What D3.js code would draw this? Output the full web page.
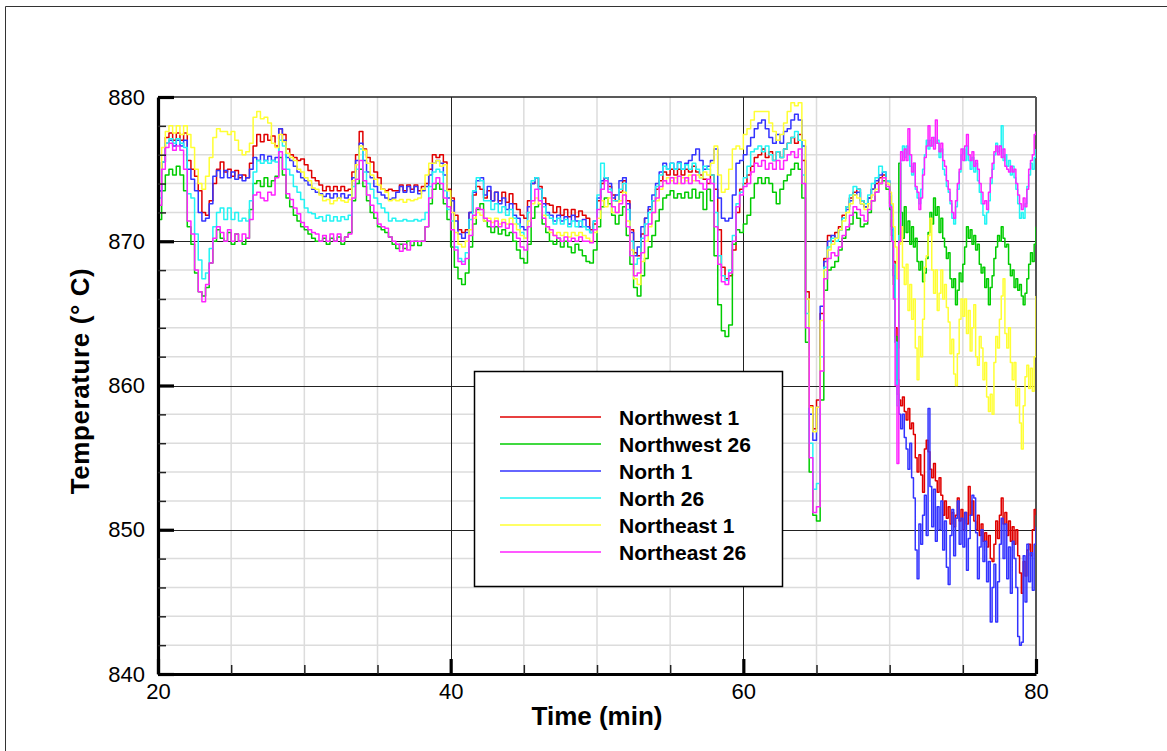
<!DOCTYPE html>
<html>
<head>
<meta charset="utf-8">
<script src="https://cdn.jsdelivr.net/npm/d3@7"></script>
<style>
  html, body { margin: 0; padding: 0; background: #fff; }
  svg { display: block; font-family: "Liberation Sans", Arial, sans-serif; }
</style>
</head>
<body>
<svg id="chart" width="1167" height="751"></svg>
<script>
// Logger time stamps (min): every 15 s up to 70 min, every 7.5 s afterwards
const minutes = [
  20,20.25,20.5,20.75,21,21.25,21.5,21.75,22,22.25,22.5,22.75,23,23.25,23.5,23.75,24,24.25,24.5,24.75,
  25,25.25,25.5,25.75,26,26.25,26.5,26.75,27,27.25,27.5,27.75,28,28.25,28.5,28.75,29,29.25,29.5,29.75,
  30,30.25,30.5,30.75,31,31.25,31.5,31.75,32,32.25,32.5,32.75,33,33.25,33.5,33.75,34,34.25,34.5,34.75,
  35,35.25,35.5,35.75,36,36.25,36.5,36.75,37,37.25,37.5,37.75,38,38.25,38.5,38.75,39,39.25,39.5,39.75,
  40,40.25,40.5,40.75,41,41.25,41.5,41.75,42,42.25,42.5,42.75,43,43.25,43.5,43.75,44,44.25,44.5,44.75,
  45,45.25,45.5,45.75,46,46.25,46.5,46.75,47,47.25,47.5,47.75,48,48.25,48.5,48.75,49,49.25,49.5,49.75,
  50,50.25,50.5,50.75,51,51.25,51.5,51.75,52,52.25,52.5,52.75,53,53.25,53.5,53.75,54,54.25,54.5,54.75,
  55,55.25,55.5,55.75,56,56.25,56.5,56.75,57,57.25,57.5,57.75,58,58.25,58.5,58.75,59,59.25,59.5,59.75,
  60,60.25,60.5,60.75,61,61.25,61.5,61.75,62,62.25,62.5,62.75,63,63.25,63.5,63.75,64,64.25,64.5,64.75,
  65,65.25,65.5,65.75,66,66.25,66.5,66.75,67,67.25,67.5,67.75,68,68.25,68.5,68.75,69,69.25,69.5,69.75,
  70,70.125,70.25,70.375,70.5,70.625,70.75,70.875,
  71,71.125,71.25,71.375,71.5,71.625,71.75,71.875,
  72,72.125,72.25,72.375,72.5,72.625,72.75,72.875,
  73,73.125,73.25,73.375,73.5,73.625,73.75,73.875,
  74,74.125,74.25,74.375,74.5,74.625,74.75,74.875,
  75,75.125,75.25,75.375,75.5,75.625,75.75,75.875,
  76,76.125,76.25,76.375,76.5,76.625,76.75,76.875,
  77,77.125,77.25,77.375,77.5,77.625,77.75,77.875,
  78,78.125,78.25,78.375,78.5,78.625,78.75,78.875,
  79,79.125,79.25,79.375,79.5,79.625,79.75,79.875,
  80
];

// Thermocouple readings (°C), one value per time stamp
const northwest1 = [
  873.5,875.5,877.2,877.5,877.0,877.5,877.0,877.5,875.6,875.0,874.5,873.5,872.0,871.8,872.8,874.0,875.0,875.5,874.8,875.0,
  874.5,874.9,874.4,874.6,874.4,875.4,876.6,877.4,876.9,877.4,877.0,877.3,876.6,877.8,877.4,876.4,876.0,875.8,875.6,875.7,
  875.3,874.9,874.4,874.2,873.9,873.5,873.8,873.5,873.8,873.5,873.8,873.5,873.6,874.8,876.0,877.6,876.4,875.8,875.5,874.8,
  874.4,873.6,873.5,873.6,873.5,873.5,873.9,873.5,873.9,873.6,873.9,873.5,873.8,874.0,875.0,876.0,875.8,876.0,875.5,873.6,
  873.0,871.8,870.8,870.6,870.8,872.0,873.2,873.8,873.6,873.0,873.5,872.8,873.4,872.8,873.4,872.7,873.3,872.6,872.2,871.8,
  871.6,872.8,874.0,874.4,873.8,873.0,872.6,872.5,872.0,872.4,871.8,872.2,871.7,872.2,871.7,872.1,871.8,871.6,870.8,871.2,
  872.8,874.0,874.4,873.8,873.2,872.8,873.4,874.2,872.8,870.8,869.2,869.0,870.5,871.6,872.2,872.8,873.6,874.2,874.8,874.6,
  875.0,874.6,875.0,874.6,875.0,874.8,875.2,874.8,874.6,874.3,874.0,874.6,873.6,870.8,868.2,867.4,867.6,869.4,872.0,873.6,
  874.0,874.6,875.2,875.8,876.0,876.4,875.8,876.2,875.6,876.2,875.8,876.4,876.8,877.2,876.8,877.4,875.6,866.5,858.6,857.0,
  859.0,865.0,868.8,870.4,870.0,870.6,871.0,871.8,872.4,873.0,873.4,873.6,872.8,872.4,873.0,873.6,874.0,874.4,874.6,874.0,
  872.6,871.0,868.6,864.0,860.4,859.0,858.6,859.2,
  858.2,857.6,858.4,857.0,857.4,856.6,855.0,854.0,
  855.2,853.8,852.6,855.6,856.2,855.4,854.2,853.6,
  854.6,853.4,852.6,853.6,852.4,851.0,852.0,850.8,
  851.6,850.4,851.2,850.2,851.0,852.2,850.6,851.4,
  850.0,851.2,850.4,853.0,851.0,852.0,850.6,850.0,
  851.0,849.6,850.4,849.2,849.8,848.8,849.6,848.0,
  847.8,849.0,850.6,849.4,851.0,852.2,850.4,851.2,
  849.6,850.6,849.2,850.2,849.0,850.0,848.2,847.0,
  845.6,847.8,846.8,848.6,849.0,848.2,850.0,851.4,
  851.0
];

const northwest26 = [
  871.5,873.5,874.6,875.0,874.6,875.2,874.6,873.5,871.0,869.8,867.8,866.5,866.2,866.8,868.5,870.0,870.8,870.2,870.0,870.6,
  869.8,870.5,870.0,869.8,870.2,872.2,874.0,874.2,873.8,874.4,873.8,874.2,874.5,875.8,874.6,873.0,872.4,871.8,871.4,871.0,
  870.8,870.5,870.2,870.0,870.0,870.2,869.8,870.2,870.0,870.3,869.8,870.3,870.6,872.8,874.0,875.0,873.8,872.8,872.0,871.6,
  871.0,870.8,870.6,870.3,869.8,869.5,869.8,869.5,870.0,869.7,870.0,869.7,870.0,871.0,872.6,873.6,874.0,873.6,872.6,871.5,
  869.6,868.2,867.4,867.0,867.8,869.6,871.2,872.2,872.6,871.4,871.0,870.6,871.0,870.5,870.8,870.4,870.6,870.0,869.4,868.8,
  868.5,869.8,871.6,872.4,872.6,871.2,870.6,870.0,869.8,870.2,869.6,870.0,869.6,869.2,869.8,869.4,869.0,868.6,868.5,869.4,
  871.0,872.4,873.0,872.6,871.8,871.2,871.8,872.4,870.4,868.4,866.8,866.2,867.6,868.8,869.6,870.4,871.4,872.2,873.0,873.2,
  873.5,873.0,873.3,873.0,873.4,873.0,873.6,873.0,873.4,872.2,873.6,872.8,869.0,865.6,863.8,863.4,864.2,869.8,870.8,870.6,
  871.2,871.8,873.0,874.0,874.4,874.0,874.4,874.0,873.4,872.6,873.6,874.2,874.6,875.0,875.4,875.0,873.0,863.0,854.0,851.0,
  850.6,859.0,866.6,868.0,868.2,868.6,869.4,870.2,870.8,871.2,872.0,871.6,871.0,871.2,872.0,872.8,873.4,874.0,874.2,873.6,
  872.2,870.4,867.0,863.4,862.6,875.4,872.0,870.2,
  872.4,870.6,871.4,869.8,871.0,869.6,870.2,868.6,
  868.0,868.6,867.2,867.8,868.8,870.6,872.0,871.2,
  873.0,871.8,872.4,870.6,871.6,870.2,869.6,868.8,
  869.2,867.4,866.8,867.4,865.6,866.6,867.8,867.2,
  868.4,869.6,871.0,870.2,870.8,869.8,870.4,869.4,
  869.8,868.4,867.8,868.2,866.8,867.4,865.6,866.8,
  867.6,868.8,869.6,870.4,870.0,871.0,870.2,869.6,
  869.8,868.4,867.6,868.0,866.8,867.4,866.6,867.0,
  866.2,865.6,866.4,867.4,868.4,869.2,868.6,869.8,
  871.0
];

const north1 = [
  873.5,875.5,876.8,877.0,876.6,877.0,876.6,877.0,875.0,874.3,873.5,872.0,871.4,871.6,872.6,874.5,874.9,874.4,874.9,874.4,
  874.8,874.3,874.6,874.2,874.4,875.0,875.8,875.6,876.0,875.6,875.9,875.6,875.8,877.8,877.0,875.8,875.6,875.2,874.8,874.4,
  874.2,873.9,873.6,873.4,873.3,873.1,873.3,873.0,873.3,873.0,873.3,873.0,873.2,874.4,875.6,876.8,875.6,874.8,874.4,873.8,
  873.4,873.2,873.0,872.9,873.0,873.4,873.8,873.4,873.8,873.4,873.8,873.3,873.5,873.8,874.6,875.4,875.6,875.4,874.6,873.0,
  872.8,871.4,870.5,870.2,870.6,872.0,873.4,874.2,874.4,873.2,873.8,872.8,873.4,872.6,873.0,872.2,872.6,871.8,871.6,871.0,
  870.8,872.4,874.0,874.4,873.6,872.6,872.0,871.8,871.4,871.8,871.4,871.7,871.2,871.8,871.4,871.0,871.5,871.0,870.6,871.4,
  873.0,874.2,874.4,874.0,873.0,873.2,874.2,874.4,872.6,870.6,869.0,869.6,871.0,871.6,872.4,873.2,874.0,874.8,875.4,875.0,
  875.4,875.0,875.5,875.0,875.4,875.6,876.0,876.4,875.6,875.0,875.2,875.6,876.4,873.0,871.6,871.4,871.6,873.2,875.4,875.6,
  876.0,876.6,877.2,877.8,878.2,878.4,877.8,877.2,876.8,877.4,876.8,877.6,877.8,878.4,878.8,878.4,876.6,866.0,858.0,856.2,
  858.5,865.5,868.6,870.0,870.4,870.2,870.8,871.6,872.2,872.8,873.2,873.4,872.6,872.4,873.0,873.6,874.2,874.6,874.8,874.2,
  872.4,870.8,867.6,863.0,859.4,858.0,857.0,858.0,
  856.4,855.6,854.2,856.0,853.6,852.2,848.6,846.6,
  850.4,849.0,851.0,852.4,849.6,858.4,853.0,850.2,
  852.8,849.2,851.6,850.0,852.0,848.6,850.6,847.4,
  846.2,849.6,851.4,848.2,850.8,852.0,849.0,850.8,
  848.8,851.2,847.2,849.4,851.0,852.4,852.2,849.8,
  846.6,848.8,850.0,847.8,849.2,846.4,847.8,843.6,
  846.0,847.6,843.6,846.4,849.0,850.8,848.0,850.4,
  846.6,848.8,845.6,849.2,848.0,846.0,842.6,842.0,
  842.2,848.2,845.0,849.0,846.4,848.4,845.8,849.0,
  850.2
];

const north26 = [
  873.0,875.5,876.8,877.1,876.8,877.1,876.8,876.5,873.3,873.0,870.5,868.7,867.4,867.8,869.5,871.0,872.0,872.3,871.5,872.3,
  871.5,872.0,871.4,871.6,871.4,872.8,874.8,875.6,875.4,875.6,875.4,875.6,875.5,877.0,876.6,875.0,874.6,873.8,873.4,872.9,
  872.3,872.0,871.9,871.6,871.7,871.4,871.8,871.4,871.7,871.4,871.7,871.5,871.8,873.8,875.0,876.4,874.8,874.0,873.6,873.0,
  872.6,872.3,872.0,871.4,871.6,871.4,871.4,871.5,871.4,871.4,871.5,871.4,871.5,872.0,873.8,874.8,875.0,874.8,873.5,872.2,
  871.4,869.6,868.8,868.6,869.2,871.5,873.5,874.4,874.2,872.8,872.8,872.2,872.6,872.0,872.4,871.8,872.2,871.6,871.2,870.6,
  870.2,872.0,874.2,874.4,873.6,872.4,871.8,871.6,871.2,871.6,871.2,871.5,871.0,871.4,871.0,871.4,871.0,870.8,870.6,871.4,
  873.2,875.4,874.4,873.6,872.8,872.8,873.6,874.0,872.2,870.0,868.4,868.8,870.2,871.2,872.0,872.8,873.8,874.6,875.2,875.0,
  875.4,875.0,875.4,875.0,875.3,875.0,875.4,875.0,874.4,875.2,875.0,874.6,872.0,869.0,867.6,867.3,868.0,870.4,872.6,873.4,
  874.4,875.2,876.2,876.4,876.6,876.2,876.6,876.0,875.6,876.2,875.8,876.4,876.8,877.2,877.6,877.0,874.6,865.0,856.0,852.8,
  853.2,862.0,868.2,869.6,870.2,870.0,870.8,871.6,872.4,873.2,873.8,873.6,872.8,872.6,873.2,874.0,874.4,875.2,874.8,874.2,
  873.2,871.6,868.4,863.0,858.6,870.4,875.6,876.6,
  875.8,876.6,876.0,875.2,874.6,875.4,873.6,873.0,
  872.6,873.6,875.0,876.0,877.0,876.4,877.0,876.6,
  877.2,876.8,877.0,875.8,876.4,875.0,874.6,873.8,
  873.4,872.6,871.6,871.2,872.4,873.6,874.8,876.0,
  876.4,875.6,876.6,875.6,875.0,875.8,874.8,875.4,
  874.2,873.4,872.6,871.8,871.2,872.0,872.8,874.0,
  875.0,876.0,876.8,876.2,876.6,878.0,875.6,876.0,
  875.2,875.6,874.6,875.2,874.4,873.6,872.6,871.6,
  872.0,871.6,872.6,873.8,874.6,875.4,875.0,875.8,
  876.4
];

const northeast1 = [
  874.0,876.5,877.6,878.0,877.5,878.0,877.4,878.0,877.4,876.5,875.0,874.0,873.6,874.5,875.8,877.2,877.8,877.6,877.6,877.4,
  877.6,877.0,876.3,876.0,876.2,876.8,878.6,879.0,878.5,878.6,878.2,876.8,876.5,877.4,876.9,876.1,875.8,875.6,875.0,874.8,
  874.4,874.2,873.7,873.6,873.2,872.8,872.9,872.6,872.8,873.0,872.8,872.7,872.9,874.2,875.3,876.6,876.3,875.4,874.6,874.3,
  873.9,873.6,873.4,872.8,872.9,872.8,872.9,872.7,872.9,872.8,872.9,873.0,873.6,874.6,875.4,875.4,875.6,875.2,875.3,873.5,
  872.0,870.6,869.8,869.6,870.0,870.8,871.6,872.0,871.8,871.4,871.6,871.3,871.6,871.2,871.5,871.2,871.6,871.2,870.8,870.4,
  870.2,871.4,872.6,873.0,872.6,871.8,871.0,870.6,870.4,870.6,870.4,870.6,870.3,870.6,870.4,870.6,870.4,870.2,870.0,870.6,
  871.6,872.8,872.4,873.0,872.0,872.0,872.8,873.4,871.4,869.4,867.4,867.0,868.6,870.0,871.0,872.0,872.8,873.6,874.2,874.4,
  874.2,874.4,874.0,874.4,874.2,874.6,874.2,874.6,874.4,874.8,874.6,875.4,876.6,874.6,873.4,873.6,875.0,876.4,876.6,876.4,
  877.4,877.8,878.4,879.0,879.0,879.0,879.0,878.2,877.6,877.0,877.4,878.2,879.0,879.6,879.4,879.6,877.0,866.0,858.5,856.8,
  858.5,864.5,868.0,869.4,869.8,870.2,870.8,871.4,872.0,872.6,873.2,873.0,872.6,872.2,872.6,873.2,873.6,874.0,874.4,874.0,
  873.4,872.6,871.0,869.6,867.4,869.8,871.0,868.2,
  867.0,868.4,865.2,867.0,864.6,866.0,862.6,860.4,
  863.4,862.0,864.6,868.2,869.0,870.4,871.6,868.0,
  866.4,868.0,865.2,866.4,868.0,866.0,867.0,865.4,
  864.4,862.2,863.2,860.8,860.0,862.2,864.6,866.0,
  864.8,866.0,863.6,865.2,862.4,864.0,865.6,862.0,
  861.4,863.4,862.6,860.4,861.6,859.2,858.2,859.4,
  858.0,861.6,863.4,862.6,864.6,866.2,867.4,863.6,
  862.6,864.0,861.6,860.4,861.6,858.6,859.8,857.4,
  855.6,858.6,860.6,861.4,859.8,861.2,859.6,862.0,
  866.2
];

const northeast26 = [
  872.5,875.0,876.5,876.8,876.3,876.6,876.3,875.0,871.4,870.5,868.0,866.5,865.8,867.0,868.5,870.2,871.0,870.6,870.0,870.8,
  870.0,870.5,870.0,870.5,870.2,871.5,873.2,873.4,873.0,872.8,873.4,873.2,874.4,876.2,875.0,873.3,872.9,872.3,871.9,871.3,
  871.0,870.8,870.6,870.5,870.0,870.4,870.0,870.5,870.0,870.5,870.0,870.3,870.5,873.0,874.3,875.6,874.2,873.2,872.5,872.0,
  871.2,871.0,870.9,870.3,870.0,869.8,869.3,869.8,869.4,870.0,870.0,870.0,870.0,871.0,873.0,874.0,874.4,874.0,873.0,872.4,
  870.8,869.4,868.6,868.4,868.8,870.4,871.8,872.3,872.2,871.6,871.4,871.0,871.4,871.0,871.3,870.9,871.2,870.6,870.2,869.6,
  869.4,871.0,872.8,873.6,872.8,871.6,871.0,870.8,870.4,870.2,870.0,870.3,870.0,870.2,870.0,870.3,870.0,870.0,869.9,870.8,
  872.2,873.6,874.2,873.4,872.4,872.0,872.6,873.2,871.0,869.0,867.6,867.8,869.2,870.4,871.2,872.0,873.0,873.8,874.2,874.0,
  874.4,874.0,874.5,874.0,874.4,874.0,874.6,874.2,874.0,873.6,874.3,874.0,871.0,868.4,867.2,867.0,867.8,870.0,872.4,873.2,
  873.8,874.0,874.8,875.4,875.2,875.6,875.0,875.4,875.0,875.6,875.0,875.6,876.0,876.2,875.8,876.4,874.0,864.0,855.0,851.2,
  851.6,861.0,867.4,868.8,869.2,869.0,869.6,870.4,871.0,871.8,872.4,872.2,871.8,871.4,872.2,872.8,873.4,874.0,874.4,873.8,
  872.4,870.0,866.0,860.0,854.6,870.0,876.2,875.6,
  876.4,875.6,877.8,876.0,874.8,875.4,873.8,873.4,
  872.2,873.0,874.6,875.8,876.6,878.0,876.6,877.2,
  876.4,878.4,876.8,876.2,876.8,875.6,875.2,874.2,
  873.6,872.8,872.0,871.6,872.8,874.0,875.0,876.4,
  875.6,876.6,877.4,876.0,875.6,876.2,875.2,875.6,
  875.0,874.0,873.4,872.6,872.8,872.2,873.4,874.4,
  875.4,876.2,876.6,876.0,876.6,875.8,876.4,875.2,
  875.0,874.8,875.2,874.8,875.0,874.0,873.2,872.6,
  872.2,873.0,872.4,873.6,875.0,875.6,876.0,877.4,
  877.6
];

const seriesNames  = ["Northwest 1", "Northwest 26", "North 1", "North 26", "Northeast 1", "Northeast 26"];
const seriesValues = [northwest1, northwest26, north1, north26, northeast1, northeast26];
const seriesColors = ["#e00000", "#00cc00", "#3333ff", "#22f4f4", "#ffff33", "#ff22ff"];

const xMajorTicks = [20, 40, 60, 80];
const xMinorTicks = [25, 30, 35, 45, 50, 55, 65, 70, 75];
const yMajorTicks = [840, 850, 860, 870, 880];
const yMinorTicks = [842, 844, 846, 848, 852, 854, 856, 858, 862, 864, 866, 868, 872, 874, 876, 878];

const W = 1167, H = 751;
const plot = { left: 158, right: 1036, top: 97, bottom: 674 };

const svg = d3.select("#chart");
svg.append("rect").attr("width", W).attr("height", H).attr("fill", "#fff");

// page frame
svg.append("path")
  .attr("d", `M5.5,${H} V6.5 H${W}`)
  .attr("fill", "none").attr("stroke", "#333").attr("stroke-width", 1);

const x = d3.scaleLinear().domain([20, 80]).range([plot.left, plot.right]);
const y = d3.scaleLinear().domain([840, 880]).range([plot.bottom, plot.top]);

// minor grid
const grid = svg.append("g");
grid.selectAll(".vmin").data(xMinorTicks).join("line")
  .attr("x1", d => x(d)).attr("x2", d => x(d))
  .attr("y1", plot.top).attr("y2", plot.bottom)
  .attr("stroke", "#dcdcdc").attr("stroke-width", 1.5);
grid.selectAll(".hmin").data(yMinorTicks).join("line")
  .attr("y1", d => y(d)).attr("y2", d => y(d))
  .attr("x1", plot.left).attr("x2", plot.right)
  .attr("stroke", "#dcdcdc").attr("stroke-width", 1.5);

// major grid
grid.selectAll(".vmaj").data(xMajorTicks.slice(1, -1)).join("line")
  .attr("x1", d => Math.round(x(d)) + 0.5).attr("x2", d => Math.round(x(d)) + 0.5)
  .attr("y1", plot.top).attr("y2", plot.bottom)
  .attr("stroke", "#222").attr("stroke-width", 1);
grid.selectAll(".hmaj").data(yMajorTicks.slice(1, -1)).join("line")
  .attr("y1", d => Math.round(y(d)) + 0.5).attr("y2", d => Math.round(y(d)) + 0.5)
  .attr("x1", plot.left).attr("x2", plot.right)
  .attr("stroke", "#222").attr("stroke-width", 1);

// top and right borders of the plot box
svg.append("line").attr("x1", plot.left).attr("x2", plot.right)
  .attr("y1", plot.top).attr("y2", plot.top)
  .attr("stroke", "#222").attr("stroke-width", 1.5);
svg.append("line").attr("x1", plot.right).attr("x2", plot.right)
  .attr("y1", plot.top).attr("y2", plot.bottom)
  .attr("stroke", "#555").attr("stroke-width", 2);

// data lines
svg.append("clipPath").attr("id", "plotClip")
  .append("rect").attr("x", plot.left).attr("y", plot.top)
  .attr("width", plot.right - plot.left).attr("height", plot.bottom - plot.top);

const line = d3.line()
  .x(d => x(d[0])).y(d => y(d[1]))
  .curve(d3.curveStepAfter);

const lines = svg.append("g").attr("clip-path", "url(#plotClip)");
seriesValues.forEach((vals, i) => {
  lines.append("path")
    .datum(minutes.map((t, k) => [t, vals[k]]))
    .attr("d", line)
    .attr("fill", "none")
    .attr("stroke", seriesColors[i])
    .attr("stroke-width", 1.5)
    .attr("stroke-linejoin", "round");
});

// axes
const fontSize = 22;
const yAxis = svg.append("g").attr("transform", `translate(${plot.left},0)`)
  .call(d3.axisLeft(y).tickValues(yMajorTicks).tickSizeInner(-16).tickSizeOuter(0).tickPadding(13).tickFormat(d3.format("d")));
const yMinorAxis = svg.append("g").attr("transform", `translate(${plot.left},0)`)
  .call(d3.axisLeft(y).tickValues(yMinorTicks).tickSizeInner(-8).tickSizeOuter(0).tickFormat(""));
const xAxis = svg.append("g").attr("transform", `translate(0,${plot.bottom})`)
  .call(d3.axisBottom(x).tickValues(xMajorTicks).tickSizeInner(-15).tickSizeOuter(0).tickPadding(9).tickFormat(d3.format("d")));
const xMinorAxis = svg.append("g").attr("transform", `translate(0,${plot.bottom})`)
  .call(d3.axisBottom(x).tickValues(xMinorTicks).tickSizeInner(-9).tickSizeOuter(0).tickFormat(""));

[yMinorAxis, xMinorAxis].forEach(a => {
  a.select(".domain").remove();
  a.selectAll(".tick line").attr("stroke", "#222").attr("stroke-width", 1.5);
});
[yAxis, xAxis].forEach(a => {
  a.select(".domain").attr("stroke", "#000").attr("stroke-width", 3.2);
  a.selectAll(".tick line").attr("stroke", "#000").attr("stroke-width", 3.2);
  a.selectAll(".tick text")
    .attr("fill", "#000")
    .style("font-family", "'Liberation Sans', Arial, sans-serif")
    .style("font-size", fontSize + "px");
});

// axis titles
svg.append("text")
  .attr("x", (plot.left + plot.right) / 2).attr("y", 725)
  .attr("text-anchor", "middle")
  .style("font-size", "26px").style("font-weight", "bold")
  .text("Time (min)");
svg.append("text")
  .attr("transform", `translate(89,381) rotate(-90)`)
  .attr("text-anchor", "middle")
  .style("font-size", "26px").style("font-weight", "bold")
  .style("letter-spacing", "0.6px")
  .text("Temperature (\u00B0 C)");

// legend
const legend = svg.append("g");
legend.append("rect")
  .attr("x", 474.5).attr("y", 371.5).attr("width", 308).attr("height", 215)
  .attr("fill", "#fff").attr("stroke", "#000").attr("stroke-width", 1.5);
seriesNames.forEach((name, i) => {
  const ly = 417 + i * 27;
  legend.append("line")
    .attr("x1", 500).attr("x2", 601).attr("y1", ly).attr("y2", ly)
    .attr("stroke", seriesColors[i]).attr("stroke-width", 1.5);
  legend.append("text")
    .attr("x", 619).attr("y", ly + 8)
    .style("font-size", "21px").style("font-weight", "bold")
    .text(name);
});
</script>
</body>
</html>
